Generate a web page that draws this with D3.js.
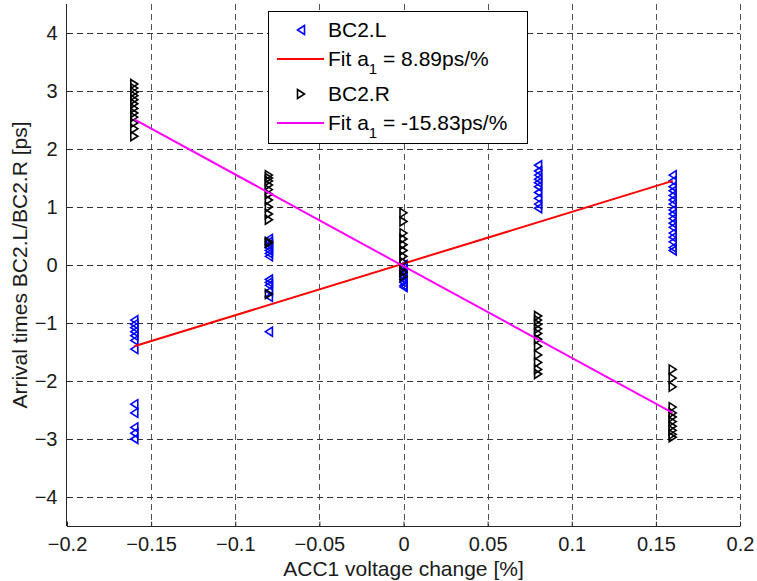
<!DOCTYPE html>
<html><head><meta charset="utf-8">
<script src="https://cdn.jsdelivr.net/npm/d3@7"></script>
<style>
body{margin:0;background:#fff;}
svg text{font-family:"Liberation Sans",Arial,Helvetica,sans-serif;}
</style></head>
<body><svg id="c" width="757" height="581"></svg>
<script>
// ---- data ----
const xTicks = [-0.2,-0.15,-0.1,-0.05,0,0.05,0.1,0.15,0.2];
const yTicks = [-4,-3,-2,-1,0,1,2,3,4];
const xLabel = "ACC1 voltage change [%]";
const yLabel = "Arrival times BC2.L/BC2.R [ps]";
const voltages = [-0.16,-0.08,0,0.08,0.16];
// BC2.L arrival times per voltage
const bc2L = [
  [-0.95,-1.02,-1.08,-1.15,-1.22,-1.3,-1.45,-2.4,-2.55,-2.8,-2.9,-3.0],
  [0.45,0.4,0.35,0.3,0.25,0.2,0.15,-0.25,-0.3,-0.35,-0.45,-0.55,-1.15],
  [0.0,-0.05,-0.1,-0.15,-0.2,-0.25,-0.3,-0.35,-0.38],
  [1.72,1.62,1.55,1.48,1.42,1.35,1.25,1.15,1.05,0.98],
  [1.55,1.45,1.35,1.28,1.2,1.12,1.05,0.95,0.88,0.8,0.72,0.65,0.55,0.48,0.4,0.3,0.25]
];
// BC2.R arrival times per voltage
const bc2R = [
  [3.12,3.05,2.98,2.92,2.85,2.78,2.7,2.62,2.55,2.45,2.35,2.22],
  [1.55,1.5,1.45,1.38,1.3,1.22,1.12,1.0,0.88,0.78,0.4,0.38,-0.5],
  [0.9,0.75,0.55,0.45,0.35,0.25,0.15,0.05,-0.05,-0.12,-0.2],
  [-0.88,-0.95,-1.02,-1.1,-1.18,-1.28,-1.4,-1.55,-1.68,-1.8,-1.88],
  [-1.8,-1.95,-2.1,-2.45,-2.55,-2.62,-2.7,-2.78,-2.85,-2.92,-2.97]
];
const fitX = [-0.16,0.16];
const fitL = [-1.40,1.45];
const fitR = [2.51,-2.55];
const legendItems = [
  {type:"mL", label:"BC2.L"},
  {type:"line", color:"#ff0000", label:"Fit a", sub:"1", rest:" = 8.89ps/%"},
  {type:"mR", label:"BC2.R"},
  {type:"line", color:"#ff00ff", label:"Fit a", sub:"1", rest:" = -15.83ps/%"}
];

// ---- drawing ----
const svg = d3.select("#c");
const L=67, R=740, T=4, B=526;
const FS = 20, LFS = 21, AFS = 21;
const x = d3.scaleLinear().domain([-0.2,0.2]).range([L,R]);
const y = d3.scaleLinear().domain([-4.5,4.5]).range([B,T]);

const grid = svg.append("g").attr("shape-rendering","crispEdges");
grid.selectAll("line.v").data(xTicks.filter(d=>d>-0.2)).join("line")
  .attr("x1",d=>Math.round(x(d))+0.5).attr("x2",d=>Math.round(x(d))+0.5)
  .attr("y1",T).attr("y2",B)
  .attr("stroke","#555").attr("stroke-dasharray","6,4");
grid.selectAll("line.h").data(yTicks).join("line")
  .attr("y1",d=>Math.round(y(d))+0.5).attr("y2",d=>Math.round(y(d))+0.5)
  .attr("x1",L).attr("x2",R)
  .attr("stroke","#333").attr("stroke-dasharray","6,4");

// axes
const xAxis = d3.axisBottom(x).tickValues(xTicks).tickSize(-5).tickPadding(10).tickFormat(d=>d3.format("")(+d.toFixed(2)));
const gx = svg.append("g").attr("transform",`translate(0,${B+0.5})`).call(xAxis);
const yAxis = d3.axisLeft(y).tickValues(yTicks).tickSize(-5).tickPadding(10).tickFormat(d=>d3.format("")(d));
const gy = svg.append("g").attr("transform",`translate(${L-0.5},0)`).call(yAxis);
[gx,gy].forEach(g=>{
  g.select(".domain").attr("stroke","#262626");
  g.selectAll(".tick line").attr("stroke","#262626");
  g.selectAll("text").attr("font-size",FS).attr("fill","#1a1a1a").attr("font-family","Liberation Sans,Arial,sans-serif");
});
gx.select(".domain").attr("d",`M${L},0H${R}`);
gy.select(".domain").attr("d",`M0,${T}V${B}`);
gy.selectAll(".tick text").attr("x",-9);

svg.append("text").attr("x",(L+R)/2).attr("y",576).attr("text-anchor","middle")
  .attr("font-size",AFS).attr("fill","#1a1a1a").text(xLabel);
svg.append("text").attr("transform",`translate(27,${(T+B)/2}) rotate(-90)`).attr("text-anchor","middle")
  .attr("font-size",AFS).attr("fill","#1a1a1a").text(yLabel);

// markers
const triL = "M-3.5,0L3.5,-4.5L3.5,4.5Z";
const triR = "M3.5,0L-3.5,-4.5L-3.5,4.5Z";
const ptsL = voltages.flatMap((v,i)=>bc2L[i].map(t=>({v,t})));
const ptsR = voltages.flatMap((v,i)=>bc2R[i].map(t=>({v,t})));
svg.append("g").selectAll("path").data(ptsL).join("path")
  .attr("d",triL).attr("transform",d=>`translate(${x(d.v)},${y(d.t)})`)
  .attr("fill","none").attr("stroke","#0000ff").attr("stroke-width",1.6);

const line = d3.line().x(d=>x(d[0])).y(d=>y(d[1]));
svg.append("path").attr("d",line(fitX.map((v,i)=>[v,fitL[i]])))
  .attr("stroke","#ff0000").attr("stroke-width",2).attr("fill","none");

svg.append("g").selectAll("path").data(ptsR).join("path")
  .attr("d",triR).attr("transform",d=>`translate(${x(d.v)},${y(d.t)})`)
  .attr("fill","none").attr("stroke","#000").attr("stroke-width",1.6);
svg.append("path").attr("d",line(fitX.map((v,i)=>[v,fitR[i]])))
  .attr("stroke","#ff00ff").attr("stroke-width",2).attr("fill","none");

// legend
const lg = svg.append("g");
lg.append("rect").attr("x",268.5).attr("y",11.5).attr("width",259).attr("height",132)
  .attr("fill","#fff").attr("stroke","#000").attr("stroke-width",1);
const rowY = [30,59,94,123];
legendItems.forEach((it,i)=>{
  const yy = rowY[i];
  if(it.type==="line"){
    lg.append("line").attr("x1",277).attr("x2",324).attr("y1",yy).attr("y2",yy)
      .attr("stroke",it.color).attr("stroke-width",2);
  } else {
    lg.append("path").attr("d",it.type==="mL"?triL:triR).attr("transform",`translate(301,${yy})`)
      .attr("fill","none").attr("stroke",it.type==="mL"?"#0000ff":"#000").attr("stroke-width",1.6);
  }
  const t = lg.append("text").attr("x",328).attr("y",yy+7).attr("font-size",LFS).attr("fill","#000");
  t.append("tspan").text(it.label);
  if(it.sub){
    t.append("tspan").attr("dy",8).attr("font-size",15).text(it.sub);
    t.append("tspan").attr("dy",-8).text(it.rest);
  }
});
</script></body></html>
